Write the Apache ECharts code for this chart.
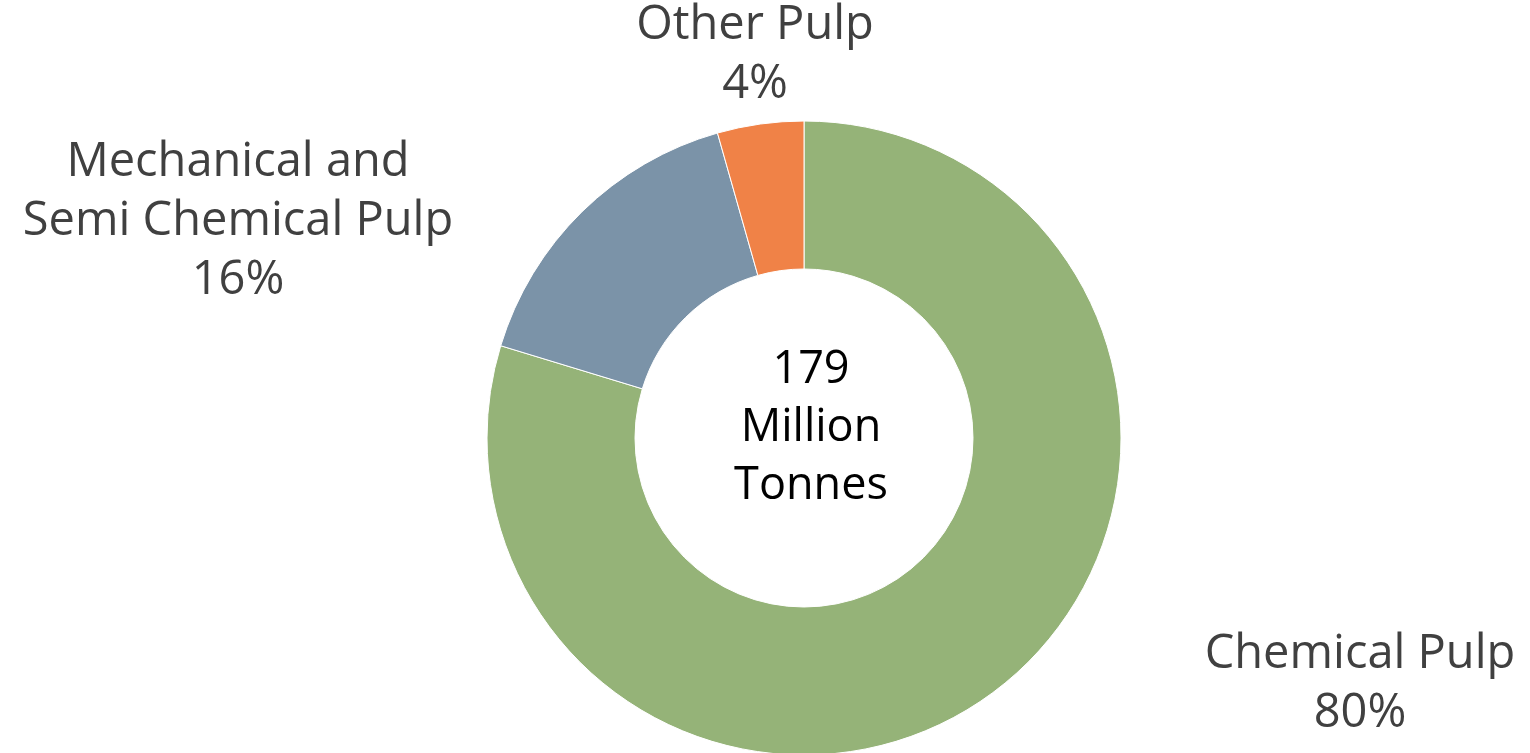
<!DOCTYPE html>
<html>
<head>
<meta charset="utf-8">
<script src="https://cdn.jsdelivr.net/npm/echarts@6/dist/echarts.min.js"></script>
<style>
html,body{margin:0;padding:0;background:#fff;}
#chart{width:1530px;height:753px;}
</style>
</head>
<body>
<div id="chart"></div>
<script>
const categories = ['Chemical Pulp', 'Mechanical and\nSemi Chemical Pulp', 'Other Pulp'];
const values = [79.7, 15.9, 4.4];
const colors = ['#95B378', '#7B93A8', '#F08247'];
const centerText = '179\nMillion\nTonnes';
const labelSpots = [[1360, 684], [238, 222], [755, 55]];

const total = values.reduce((a, b) => a + b, 0);
const chart = echarts.init(document.getElementById('chart'));
chart.setOption({
  animation: false,
  graphic: [{
    type: 'text',
    left: 811 - 100, top: 438 - 97,
    style: {
      text: centerText, x: 100, y: 0, width: 200,
      textAlign: 'center', fill: '#000', font: '45px "Open Sans"', lineHeight: 58
    }
  }],
  series: [{
    type: 'pie',
    center: [804, 438],
    radius: [169, 317],
    startAngle: 90,
    clockwise: true,
    avoidLabelOverlap: false,
    itemStyle: { borderColor: '#fff', borderWidth: 1 },
    label: {
      show: true,
      position: 'outside',
      fontFamily: 'Open Sans',
      fontSize: 47,
      lineHeight: 59,
      color: '#404040',
      align: 'center',
      formatter: p => p.name + '\n' + Math.round(p.value / total * 100) + '%'
    },
    labelLine: { show: false },
    labelLayout: function (params) {
      const s = labelSpots[params.dataIndex];
      return { x: s[0], y: s[1], align: 'center', verticalAlign: 'middle' };
    },
    data: categories.map((c, i) => ({ name: c, value: values[i], itemStyle: { color: colors[i] } }))
  }]
});
</script>
</body>
</html>
